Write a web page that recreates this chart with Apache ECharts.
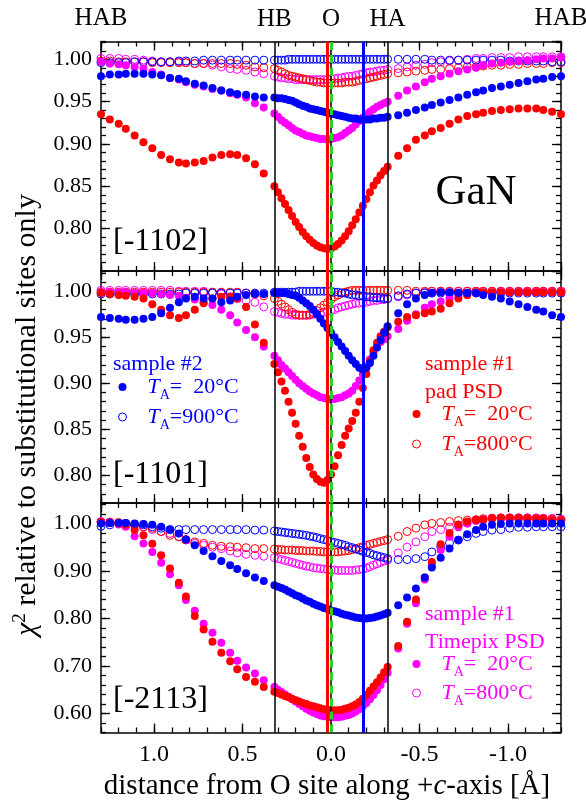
<!DOCTYPE html>
<html lang="en">
<head>
    <meta charset="UTF-8">
    <title>GaN chi2 scans</title>
    <script src="https://cdn.jsdelivr.net/npm/echarts@6.0.0/dist/echarts.min.js"></script>
    <style>
        html, body { margin: 0; padding: 0; background: #fff; }
        #main { width: 586px; height: 805px; }
    </style>
</head>
<body>
<div id="main"></div>
<script>
    (function () {
        var FONT = '"Liberation Serif", "Times New Roman", serif';
        var BLUE = '#0000ff', RED = '#ff0000', MAG = '#ff00ff', GREEN = '#2bd12b';

        // distance from O site along +c (Angstrom)
        var xs = [
            1.30, 1.25, 1.20, 1.16, 1.11, 1.06, 1.01, 0.96, 0.91, 0.86, 0.82, 0.77, 0.72, 0.67, 0.62, 0.57, 0.53, 0.48, 0.43, 0.38,
            0.32, 0.30, 0.28, 0.26, 0.24, 0.22, 0.20, 0.18, 0.16, 0.14, 0.12, 0.10, 0.08, 0.06, 0.04, 0.02, 0.00,
            -0.02, -0.04, -0.06, -0.08, -0.10, -0.12, -0.14, -0.16, -0.18, -0.20, -0.22, -0.24, -0.26, -0.28, -0.30, -0.32,
            -0.38, -0.43, -0.48, -0.53, -0.57, -0.62, -0.67, -0.72, -0.77, -0.82, -0.86, -0.91, -0.96, -1.01, -1.06, -1.11, -1.16, -1.20, -1.25, -1.30
        ];

        // site positions (vertical lines)
        var siteHB = 0.318, siteO = 0.0, siteHA = -0.318, siteHAB = 1.3;
        var minRed = 0.018, minBlue = -0.184;

        // ---- [-1102] ----
        var p1Blue = [
            0.980, 0.982, 0.982, 0.983, 0.983, 0.983, 0.982, 0.981, 0.978, 0.977, 0.974, 0.971, 0.969, 0.966, 0.963, 0.961, 0.959, 0.958, 0.956, 0.955,
            0.955, 0.954, 0.954, 0.953, 0.952, 0.951, 0.949, 0.947, 0.945, 0.944, 0.942, 0.941, 0.940, 0.939, 0.938, 0.937, 0.936, 0.935, 0.934, 0.933, 0.932, 0.931, 0.930, 0.930, 0.929, 0.929, 0.929, 0.929, 0.930, 0.930, 0.931, 0.931, 0.932,
            0.934, 0.937, 0.940, 0.943, 0.946, 0.949, 0.952, 0.955, 0.958, 0.961, 0.963, 0.966, 0.968, 0.970, 0.972, 0.974, 0.976, 0.977, 0.979, 0.980
        ];
        var p1BlueOpen = [
            0.996, 0.996, 0.996, 0.996, 0.997, 0.997, 0.997, 0.997, 0.997, 0.998, 0.998, 0.998, 0.999, 0.999, 0.999, 0.999, 0.999, 0.999, 0.999, 0.999,
            0.999, 0.999, 0.999, 0.999, 1.000, 1.000, 1.000, 1.000, 1.000, 1.000, 1.000, 1.000, 1.000, 1.000, 1.000, 1.000, 1.000, 1.000, 1.000, 1.000, 1.000, 1.000, 1.000, 1.000, 1.000, 1.000, 1.000, 1.000, 1.000, 1.000, 1.000, 1.000, 1.000,
            1.000, 1.000, 1.000, 1.000, 0.999, 0.999, 0.999, 0.999, 0.999, 0.999, 0.999, 0.999, 0.999, 0.998, 0.998, 0.998, 0.998, 0.998, 0.997, 0.997
        ];
        var p1Red = [
            0.935, 0.929, 0.924, 0.918, 0.910, 0.902, 0.895, 0.887, 0.882, 0.878, 0.877, 0.878, 0.880, 0.884, 0.887, 0.888, 0.887, 0.883, 0.876, 0.865,
            0.850, 0.843, 0.836, 0.829, 0.822, 0.815, 0.808, 0.802, 0.796, 0.791, 0.787, 0.783, 0.780, 0.778, 0.777, 0.776, 0.777, 0.779, 0.782, 0.786, 0.791, 0.797, 0.804, 0.811, 0.819, 0.827, 0.835, 0.843, 0.851, 0.857, 0.863, 0.868, 0.873,
            0.886, 0.895, 0.905, 0.910, 0.915, 0.919, 0.924, 0.929, 0.933, 0.935, 0.937, 0.939, 0.940, 0.941, 0.942, 0.942, 0.942, 0.940, 0.938, 0.935
        ];
        var p1RedOpen = [
            0.998, 0.998, 0.997, 0.997, 0.997, 0.997, 0.996, 0.996, 0.996, 0.996, 0.996, 0.995, 0.995, 0.995, 0.995, 0.995, 0.994, 0.993, 0.991, 0.990,
            0.989, 0.987, 0.985, 0.983, 0.981, 0.980, 0.979, 0.978, 0.977, 0.976, 0.975, 0.974, 0.973, 0.973, 0.972, 0.972, 0.972, 0.972, 0.972, 0.972, 0.973, 0.973, 0.973, 0.974, 0.975, 0.976, 0.977, 0.978, 0.979, 0.980, 0.981, 0.982, 0.983,
            0.984, 0.985, 0.986, 0.987, 0.988, 0.988, 0.989, 0.990, 0.991, 0.991, 0.992, 0.993, 0.993, 0.994, 0.994, 0.995, 0.995, 0.995, 0.996, 0.996
        ];
        var p1Mag = [
            0.997, 0.995, 0.994, 0.993, 0.991, 0.989, 0.985, 0.982, 0.978, 0.976, 0.973, 0.970, 0.968, 0.965, 0.963, 0.960, 0.958, 0.955, 0.948, 0.943,
            0.936, 0.932, 0.928, 0.925, 0.922, 0.919, 0.916, 0.914, 0.912, 0.910, 0.909, 0.908, 0.907, 0.906, 0.906, 0.905, 0.906, 0.907, 0.908, 0.910, 0.913, 0.916, 0.919, 0.923, 0.927, 0.931, 0.935, 0.938, 0.941, 0.944, 0.946, 0.948, 0.950,
            0.957, 0.963, 0.968, 0.973, 0.977, 0.980, 0.983, 0.986, 0.988, 0.990, 0.993, 0.995, 0.996, 0.997, 0.998, 0.999, 1.000, 1.001, 1.001, 1.002
        ];
        var p1MagOpen = [
            1.001, 1.001, 1.001, 1.000, 1.000, 0.999, 0.998, 0.997, 0.997, 0.997, 0.996, 0.995, 0.995, 0.993, 0.991, 0.989, 0.988, 0.987, 0.985, 0.983,
            0.980, 0.979, 0.978, 0.978, 0.977, 0.977, 0.976, 0.976, 0.976, 0.976, 0.976, 0.976, 0.976, 0.976, 0.976, 0.976, 0.977, 0.977, 0.978, 0.978, 0.979, 0.980, 0.980, 0.981, 0.982, 0.983, 0.984, 0.985, 0.985, 0.986, 0.987, 0.987, 0.988,
            0.989, 0.991, 0.993, 0.994, 0.996, 0.997, 0.998, 0.999, 1.000, 1.001, 1.001, 1.002, 1.002, 1.002, 1.003, 1.003, 1.003, 1.003, 1.003, 1.003
        ];

        // ---- [-1101] ----
        var p2Blue = [
            0.972, 0.971, 0.970, 0.969, 0.969, 0.970, 0.972, 0.976, 0.982, 0.988, 0.992, 0.994, 0.992, 0.992, 0.988, 0.990, 0.994, 0.996, 0.997, 0.997,
            0.998, 0.998, 0.998, 0.998, 0.997, 0.996, 0.995, 0.993, 0.990, 0.987, 0.984, 0.980, 0.975, 0.970, 0.965, 0.960, 0.955, 0.950, 0.945, 0.940, 0.935, 0.930, 0.925, 0.921, 0.917, 0.915, 0.917, 0.922, 0.930, 0.939, 0.947, 0.955, 0.962,
            0.976, 0.986, 0.992, 0.996, 0.998, 0.999, 0.999, 0.998, 0.998, 0.998, 0.996, 0.994, 0.992, 0.989, 0.986, 0.983, 0.980, 0.978, 0.974, 0.972
        ];
        var p2BlueOpen = [
            0.997, 0.997, 0.997, 0.997, 0.997, 0.997, 0.997, 0.997, 0.997, 0.997, 0.998, 0.998, 0.998, 0.998, 0.998, 0.998, 0.998, 0.998, 0.998, 0.998,
            0.999, 0.999, 0.999, 0.999, 0.999, 0.999, 0.999, 1.000, 1.000, 1.000, 1.000, 1.000, 1.000, 1.000, 1.000, 1.000, 1.000, 0.999, 0.999, 0.998, 0.998, 0.997, 0.996, 0.996, 0.995, 0.995, 0.994, 0.994, 0.993, 0.993, 0.993, 0.992, 0.992,
            0.995, 0.997, 0.998, 0.998, 0.998, 0.998, 0.998, 0.998, 0.998, 0.998, 0.998, 0.998, 0.998, 0.998, 0.998, 0.998, 0.998, 0.998, 0.998, 0.998
        ];
        var p2Red = [
            0.998, 0.997, 0.996, 0.995, 0.994, 0.992, 0.986, 0.980, 0.974, 0.971, 0.974, 0.980, 0.987, 0.992, 0.994, 0.994, 0.992, 0.983, 0.964, 0.944,
            0.921, 0.912, 0.902, 0.892, 0.880, 0.868, 0.856, 0.843, 0.831, 0.819, 0.809, 0.801, 0.796, 0.793, 0.792, 0.795, 0.801, 0.810, 0.822, 0.833, 0.843, 0.851, 0.859, 0.868, 0.880, 0.895, 0.910, 0.924, 0.936, 0.944, 0.951, 0.956, 0.961,
            0.967, 0.972, 0.974, 0.976, 0.978, 0.981, 0.987, 0.992, 0.996, 0.999, 0.999, 0.999, 0.999, 0.999, 0.999, 0.999, 0.999, 0.999, 0.999, 0.999
        ];
        var p2RedOpen = [
            0.999, 0.999, 0.999, 0.999, 0.999, 0.999, 0.999, 0.999, 0.999, 0.999, 0.999, 0.999, 0.999, 0.999, 0.999, 0.999, 0.999, 0.998, 0.997, 0.995,
            0.992, 0.989, 0.986, 0.983, 0.980, 0.977, 0.975, 0.974, 0.974, 0.974, 0.975, 0.977, 0.979, 0.982, 0.985, 0.988, 0.991, 0.994, 0.996, 0.998, 0.999, 1.000, 1.001, 1.001, 1.001, 1.001, 1.001, 1.001, 1.001, 1.001, 1.001, 1.001, 1.001,
            1.001, 1.001, 1.000, 1.000, 1.000, 1.000, 1.000, 1.000, 1.000, 1.000, 1.000, 1.000, 1.000, 1.000, 1.000, 1.000, 1.000, 1.000, 1.000, 1.000
        ];
        var p2Mag = [
            0.999, 0.999, 0.999, 0.999, 0.998, 0.998, 0.998, 0.997, 0.996, 0.995, 0.993, 0.991, 0.988, 0.985, 0.980, 0.974, 0.966, 0.958, 0.950, 0.940,
            0.930, 0.925, 0.920, 0.916, 0.912, 0.908, 0.904, 0.900, 0.897, 0.894, 0.891, 0.889, 0.887, 0.885, 0.884, 0.883, 0.883, 0.883, 0.884, 0.885, 0.887, 0.889, 0.892, 0.897, 0.903, 0.910, 0.918, 0.926, 0.934, 0.940, 0.945, 0.948, 0.951,
            0.959, 0.968, 0.975, 0.982, 0.986, 0.989, 0.992, 0.995, 0.996, 0.998, 0.998, 0.998, 0.999, 0.999, 0.999, 0.999, 0.999, 0.999, 0.999, 0.999
        ];
        var p2MagOpen = [
            1.001, 1.001, 1.001, 1.001, 1.001, 1.001, 1.001, 1.001, 1.001, 1.000, 1.000, 1.000, 1.000, 0.999, 0.997, 0.994, 0.992, 0.990, 0.988, 0.983,
            0.978, 0.977, 0.976, 0.975, 0.975, 0.974, 0.974, 0.974, 0.974, 0.974, 0.974, 0.975, 0.975, 0.976, 0.977, 0.978, 0.979, 0.980, 0.982, 0.983, 0.984, 0.985, 0.986, 0.987, 0.987, 0.988, 0.988, 0.989, 0.990, 0.990, 0.991, 0.991, 0.992,
            0.994, 0.996, 0.998, 0.999, 1.000, 1.000, 1.000, 1.000, 1.000, 1.000, 1.000, 1.000, 1.000, 1.000, 1.000, 1.000, 1.000, 1.000, 1.000, 1.000
        ];

        // ---- [-2113] ----
        var p3Blue = [
            1.000, 1.001, 1.001, 1.001, 1.000, 0.999, 0.997, 0.993, 0.987, 0.979, 0.966, 0.954, 0.942, 0.931, 0.921, 0.912, 0.904, 0.895, 0.886, 0.879,
            0.870, 0.867, 0.864, 0.861, 0.857, 0.853, 0.849, 0.846, 0.842, 0.838, 0.835, 0.831, 0.828, 0.825, 0.822, 0.820, 0.817, 0.815, 0.813, 0.810, 0.808, 0.806, 0.804, 0.802, 0.801, 0.800, 0.800, 0.801, 0.802, 0.804, 0.806, 0.809, 0.812,
            0.828, 0.844, 0.863, 0.886, 0.907, 0.928, 0.947, 0.965, 0.977, 0.986, 0.993, 0.997, 0.999, 1.000, 1.000, 1.000, 1.000, 1.000, 1.000, 1.000
        ];
        var p3BlueOpen = [
            0.994, 0.997, 1.000, 1.000, 0.998, 0.997, 0.993, 0.990, 0.987, 0.987, 0.987, 0.987, 0.987, 0.987, 0.987, 0.987, 0.987, 0.987, 0.986, 0.986,
            0.984, 0.983, 0.982, 0.981, 0.980, 0.979, 0.978, 0.977, 0.976, 0.975, 0.973, 0.972, 0.970, 0.968, 0.966, 0.964, 0.962, 0.960, 0.958, 0.956, 0.954, 0.951, 0.949, 0.946, 0.944, 0.941, 0.939, 0.937, 0.934, 0.932, 0.930, 0.928, 0.926,
            0.924, 0.924, 0.926, 0.930, 0.940, 0.951, 0.959, 0.965, 0.972, 0.979, 0.983, 0.986, 0.987, 0.990, 0.992, 0.992, 0.993, 0.993, 0.993, 0.993
        ];
        var p3Red = [
            1.003, 1.001, 1.000, 0.997, 0.986, 0.975, 0.957, 0.933, 0.905, 0.875, 0.846, 0.805, 0.777, 0.751, 0.728, 0.710, 0.693, 0.677, 0.667, 0.656,
            0.646, 0.643, 0.640, 0.637, 0.634, 0.631, 0.628, 0.625, 0.622, 0.620, 0.617, 0.615, 0.613, 0.611, 0.609, 0.608, 0.607, 0.607, 0.607, 0.608, 0.610, 0.612, 0.615, 0.619, 0.624, 0.631, 0.639, 0.648, 0.657, 0.666, 0.676, 0.687, 0.698,
            0.742, 0.793, 0.840, 0.886, 0.919, 0.956, 0.980, 0.997, 1.004, 1.007, 1.008, 1.010, 1.012, 1.012, 1.012, 1.011, 1.010, 1.010, 1.008, 1.006
        ];
        var p3RedOpen = [
            1.003, 1.003, 1.002, 1.000, 0.997, 0.993, 0.990, 0.983, 0.975, 0.972, 0.966, 0.961, 0.958, 0.954, 0.952, 0.951, 0.950, 0.949, 0.947, 0.947,
            0.946, 0.945, 0.945, 0.944, 0.944, 0.944, 0.943, 0.943, 0.943, 0.942, 0.942, 0.942, 0.941, 0.941, 0.940, 0.940, 0.940, 0.940, 0.940, 0.941, 0.942, 0.943, 0.945, 0.947, 0.949, 0.951, 0.954, 0.956, 0.958, 0.960, 0.962, 0.964, 0.966,
            0.973, 0.983, 0.990, 0.997, 1.000, 1.002, 1.004, 1.006, 1.007, 1.008, 1.010, 1.011, 1.011, 1.011, 1.011, 1.011, 1.010, 1.010, 1.009, 1.007
        ];
        var p3Mag = [
            1.004, 1.002, 0.998, 0.993, 0.973, 0.958, 0.940, 0.917, 0.893, 0.870, 0.839, 0.816, 0.789, 0.770, 0.749, 0.728, 0.711, 0.697, 0.684, 0.670,
            0.656, 0.650, 0.645, 0.640, 0.635, 0.630, 0.625, 0.620, 0.615, 0.610, 0.606, 0.602, 0.599, 0.596, 0.594, 0.593, 0.592, 0.592, 0.592, 0.593, 0.595, 0.597, 0.600, 0.604, 0.609, 0.615, 0.622, 0.630, 0.639, 0.649, 0.660, 0.672, 0.686,
            0.737, 0.789, 0.832, 0.882, 0.912, 0.944, 0.972, 0.992, 1.000, 1.006, 1.008, 1.010, 1.010, 1.010, 1.010, 1.010, 1.009, 1.008, 1.007, 1.006
        ];
        var p3MagOpen = [
            1.004, 1.002, 1.000, 0.998, 0.997, 0.992, 0.987, 0.983, 0.979, 0.972, 0.965, 0.958, 0.954, 0.950, 0.947, 0.942, 0.938, 0.935, 0.933, 0.931,
            0.928, 0.926, 0.924, 0.922, 0.920, 0.918, 0.916, 0.914, 0.912, 0.910, 0.909, 0.907, 0.906, 0.905, 0.904, 0.903, 0.902, 0.902, 0.901, 0.901, 0.901, 0.901, 0.901, 0.902, 0.903, 0.904, 0.906, 0.909, 0.912, 0.915, 0.918, 0.921, 0.923,
            0.938, 0.950, 0.961, 0.972, 0.983, 0.987, 0.992, 0.997, 1.001, 1.006, 1.008, 1.011, 1.012, 1.012, 1.012, 1.012, 1.012, 1.011, 1.011, 1.009
        ];

        var panels = [
            {top: 41.5, height: 229.5, min: 0.75, max: 1.021, minor: 0.01, label: '[-1102]',
                data: {tpx_800: p1MagOpen, pad_800: p1RedOpen, s2_900: p1BlueOpen, tpx_20: p1Mag, pad_20: p1Red, s2_20: p1Blue}},
            {top: 271, height: 232, min: 0.77, max: 1.022, minor: 0.01, label: '[-1101]',
                data: {tpx_800: p2MagOpen, pad_800: p2RedOpen, s2_900: p2BlueOpen, tpx_20: p2Mag, pad_20: p2Red, s2_20: p2Blue}},
            {top: 503, height: 229.5, min: 0.56, max: 1.043, minor: 0.02, label: '[-2113]',
                data: {tpx_800: p3MagOpen, pad_800: p3RedOpen, s2_900: p3BlueOpen, tpx_20: p3Mag, pad_20: p3Red, s2_20: p3Blue}}
        ];

        var seriesOrder = ['tpx_800', 'pad_800', 's2_900', 'tpx_20', 'pad_20', 's2_20'];
        var colorOf = {s2_20: BLUE, s2_900: BLUE, pad_20: RED, pad_800: RED, tpx_20: MAG, tpx_800: MAG};
        var openOf = {s2_900: true, pad_800: true, tpx_800: true};

        function markerStyle(key) {
            return openOf[key]
                ? {color: 'transparent', borderColor: colorOf[key], borderWidth: 1, opacity: 1}
                : {color: colorOf[key], borderWidth: 0, opacity: 1};
        }

        function makeX(g, pos, major) {
            // the top axis of the first panel carries the HAB labels at both ends
            var habAxis = major && pos === 'top' && g === 0;
            var ax = {
                type: 'value', gridIndex: g, position: pos,
                min: -siteHAB, max: siteHAB, inverse: true,
                axisLine: {show: major, onZero: false, lineStyle: {color: '#000', width: 1.5}},
                axisTick: {show: true, inside: true, length: major ? 9 : 5, lineStyle: {color: '#000', width: 1.3}},
                axisLabel: habAxis ? {
                    show: true, showMinLabel: true, showMaxLabel: true,
                    fontFamily: FONT, fontSize: 25, color: '#000', margin: 11,
                    formatter: function (v) { return Math.abs(Math.abs(v) - siteHAB) < 1e-6 ? 'HAB' : ''; }
                } : {
                    show: major && pos === 'bottom' && g === 2,
                    showMinLabel: false, showMaxLabel: false,
                    fontFamily: FONT, fontSize: 24, color: '#000', margin: 10,
                    formatter: function (v) { return v.toFixed(1); }
                },
                splitLine: {show: false}
            };
            if (major) ax.splitNumber = 5; else ax.interval = 0.1;
            return ax;
        }

        function makeY(g, pos, major, p) {
            var ax = {
                type: 'value', gridIndex: g, position: pos,
                min: p.min, max: p.max,
                axisLine: {show: major, onZero: false, lineStyle: {color: '#000', width: 1.5}},
                axisTick: {show: true, inside: true, length: major ? 9 : 5, lineStyle: {color: '#000', width: 1.3}},
                axisLabel: {
                    show: major && pos === 'left',
                    showMinLabel: false, showMaxLabel: false,
                    fontFamily: FONT, fontSize: 22, color: '#000', margin: 9,
                    formatter: function (v) { return v.toFixed(2); }
                },
                splitLine: {show: false}
            };
            if (major) ax.splitNumber = 5; else ax.interval = p.minor;
            return ax;
        }

        function siteLines(g) {
            var lbl = function (txt) {
                return {show: g === 0 && !!txt, formatter: txt || '', position: 'end', distance: 10,
                    fontFamily: FONT, fontSize: 25, color: '#000'};
            };
            var black = {color: '#000', width: 1.5, type: 'solid'};
            return [
                {xAxis: siteHB, lineStyle: black, label: lbl('HB')},
                {xAxis: siteO, lineStyle: black, label: lbl('O')},
                {xAxis: siteHA, lineStyle: black, label: lbl('HA')},
                {xAxis: minRed, lineStyle: {color: RED, width: 3, type: 'solid'}, label: lbl('')},
                {xAxis: siteO, lineStyle: {color: GREEN, width: 3, type: [8, 5]}, label: lbl('')},
                {xAxis: minBlue, lineStyle: {color: BLUE, width: 3, type: 'solid'}, label: lbl('')}
            ];
        }

        var grids = [], xAxes = [], yAxes = [], series = [];
        panels.forEach(function (p, g) {
            grids.push({left: 101, right: 25, top: p.top, height: p.height, outerBoundsMode: 'none'});
            xAxes.push(makeX(g, 'bottom', true), makeX(g, 'bottom', false), makeX(g, 'top', true), makeX(g, 'top', false));
            yAxes.push(makeY(g, 'left', true, p), makeY(g, 'left', false, p), makeY(g, 'right', true, p), makeY(g, 'right', false, p));
            seriesOrder.forEach(function (key) {
                var vals = p.data[key];
                series.push({
                    type: 'scatter', name: key,
                    xAxisIndex: g * 4, yAxisIndex: g * 4,
                    symbol: 'circle', symbolSize: 8,
                    itemStyle: markerStyle(key),
                    silent: true, animation: false,
                    data: xs.map(function (x, i) { return [x, vals[i]]; })
                });
            });
            series[series.length - 1].markLine = {
                silent: true, animation: false, symbol: ['none', 'none'],
                data: siteLines(g)
            };
        });

        function legendFor(keys, tails, color, left, top, gap) {
            return {
                orient: 'vertical', left: left, top: top, padding: 0, itemGap: gap,
                itemWidth: 40, itemHeight: 8, selectedMode: false,
                data: keys.map(function (k) { return {name: k, icon: 'circle', itemStyle: markerStyle(k)}; }),
                formatter: function (name) { return '{t|T}{s|A}{n|' + tails[name] + '}'; },
                textStyle: {
                    color: color, fontFamily: FONT, fontSize: 22,
                    rich: {
                        t: {fontFamily: FONT, fontSize: 22, fontStyle: 'italic', color: color, lineHeight: 30},
                        s: {fontFamily: FONT, fontSize: 14, color: color, verticalAlign: 'bottom', lineHeight: 14},
                        n: {fontFamily: FONT, fontSize: 22, color: color, lineHeight: 30}
                    }
                }
            };
        }

        var tails = {
            s2_20: '=\u00a0\u00a020\u00b0C', s2_900: '=900\u00b0C',
            pad_20: '=\u00a0\u00a020\u00b0C', pad_800: '=800\u00b0C',
            tpx_20: '=\u00a0\u00a020\u00b0C', tpx_800: '=800\u00b0C'
        };

        function txt(s, x, y, size, color, align) {
            return {type: 'text', x: x, y: y, silent: true,
                style: {text: s, fontFamily: FONT, fontSize: size, fill: color, align: align || 'left', verticalAlign: 'middle'}};
        }

        var graphics = [
            txt(panels[0].label, 113, 242, 32, '#000'),
            txt(panels[1].label, 113, 475, 32, '#000'),
            txt(panels[2].label, 113, 700, 32, '#000'),
            txt('GaN', 476, 193, 43, '#000', 'center'),
            txt('sample #2', 113, 364, 22, BLUE),
            txt('sample #1', 425, 364, 22, RED),
            txt('pad PSD', 425, 392, 22, RED),
            txt('sample #1', 425, 614, 22, MAG),
            txt('Timepix PSD', 425, 642, 22, MAG),
            {type: 'text', x: 327, y: 786, silent: true,
                style: {text: '{n|distance from O site along +}{i|c}{n|-axis [\u00c5]}', align: 'center', verticalAlign: 'middle',
                    rich: {n: {fontFamily: FONT, fontSize: 29, fill: '#000'}, i: {fontFamily: FONT, fontSize: 29, fontStyle: 'italic', fill: '#000'}}}},
            {type: 'text', x: 27, y: 415, rotation: Math.PI / 2, silent: true,
                style: {text: '{c|\u03c7}{u|2}{n| relative to substitutional sites only}', align: 'center', verticalAlign: 'middle',
                    rich: {c: {fontFamily: FONT, fontSize: 30, fontStyle: 'italic', fill: '#000', lineHeight: 33},
                        u: {fontFamily: FONT, fontSize: 19, fill: '#000', verticalAlign: 'top', lineHeight: 19},
                        n: {fontFamily: FONT, fontSize: 30, fill: '#000', lineHeight: 33}}}}
        ];

        var chart = echarts.init(document.getElementById('main'), null, {renderer: 'canvas'});
        chart.setOption({
            animation: false,
            backgroundColor: '#fff',
            grid: grids,
            xAxis: xAxes,
            yAxis: yAxes,
            legend: [
                legendFor(['s2_20', 's2_900'], tails, BLUE, 118, 376, 4),
                legendFor(['pad_20', 'pad_800'], tails, RED, 412, 403, 4),
                legendFor(['tpx_20', 'tpx_800'], tails, MAG, 412, 653, 3)
            ],
            graphic: graphics,
            series: series
        });
    })();
</script>
</body>
</html>
